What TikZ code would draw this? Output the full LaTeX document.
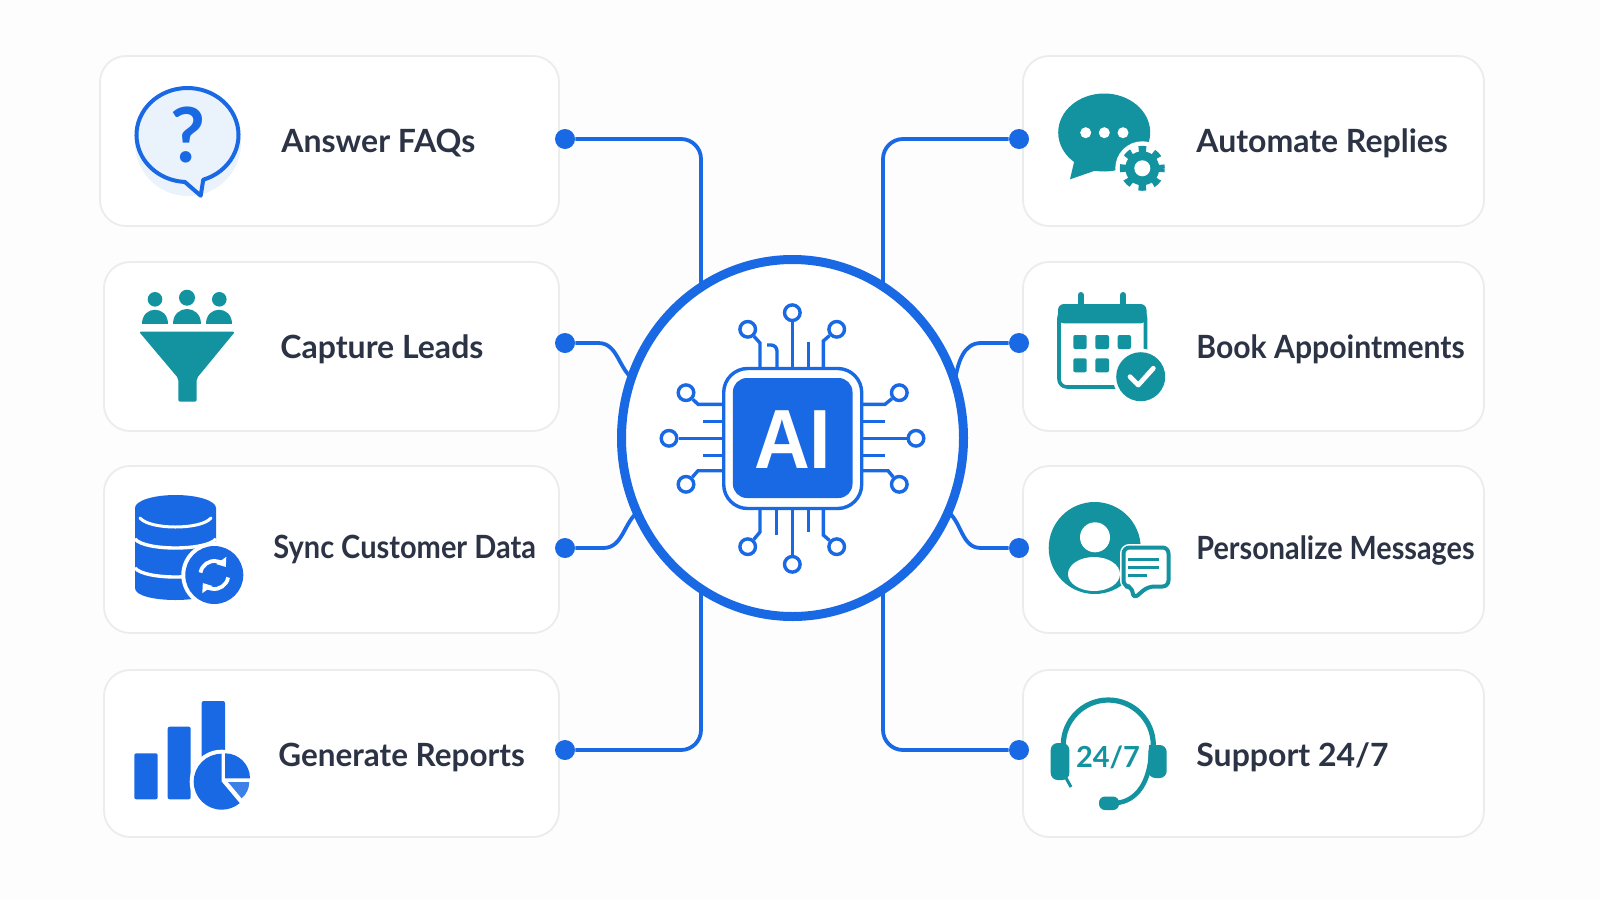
\documentclass[tikz,border=0pt]{standalone}
\usepackage{fontspec}
\setmainfont{Lato}
\newfontfamily\chipfont{Liberation Sans}[FakeStretch=0.92]
\usetikzlibrary{shapes.geometric,arrows.meta}
\definecolor{aiblue}{HTML}{1A69E4}
\definecolor{aiteal}{HTML}{13939F}
\definecolor{inktext}{HTML}{2B3345}
\definecolor{cardline}{HTML}{EBECEE}
\definecolor{palefill}{HTML}{EAF2FB}
\definecolor{pagefill}{HTML}{FDFDFE}
\tikzset{
  card/.style={draw=cardline, fill=white, line width=0.9pt, rounded corners=13pt, inner sep=0pt},
  cardtext/.style={anchor=base west, inner sep=0pt, text=inktext, font=\fontsize{16}{18}\selectfont\bfseries\addfontfeatures{FakeStretch=#1}},
  cardtext/.default=1,
  wire/.style={draw=aiblue, line width=1.9pt},
  portdot/.style={circle, fill=aiblue, inner sep=0pt, minimum size=10pt},
  trace/.style={draw=aiblue, line width=1.7pt},
  pinring/.style={circle, draw=aiblue, fill=white, line width=1.7pt, inner sep=0pt, minimum size=7.8pt},
}
\begin{document}
\begin{tikzpicture}[x=0.5pt, y=-0.5pt]
    \useasboundingbox (0, 0) rectangle (1600, 900);
    \fill [pagefill] (0, 0) rectangle (1600, 900);

    % cards
    \node [card, minimum width=229.5pt, minimum height=85pt] (faqCard) at (329.5, 141) {};
    \node [card, minimum width=227.5pt, minimum height=84.5pt] (leadCard) at (331.5, 346.5) {};
    \node [card, minimum width=227.5pt, minimum height=83.5pt] (dataCard) at (331.5, 549.5) {};
    \node [card, minimum width=227.5pt, minimum height=83.5pt] (reportCard) at (331.5, 753.5) {};
    \node [card, minimum width=230.5pt, minimum height=85pt] (replyCard) at (1253.5, 141) {};
    \node [card, minimum width=230.5pt, minimum height=84.5pt] (bookCard) at (1253.5, 346.5) {};
    \node [card, minimum width=230.5pt, minimum height=83.5pt] (msgCard) at (1253.5, 549.5) {};
    \node [card, minimum width=230.5pt, minimum height=83.5pt] (supportCard) at (1253.5, 753.5) {};

    \node [cardtext] (faqText) at (281, 152.5) {Answer FAQs};
    \node [cardtext] (leadText) at (280, 358) {Capture Leads};
    \node [cardtext=0.906] (dataText) at (273, 558.5) {Sync Customer Data};
    \node [cardtext=0.983] (reportText) at (278, 766) {Generate Reports};
    \node [cardtext] (replyText) at (1196, 152.5) {Automate Replies};
    \node [cardtext=0.942] (bookText) at (1196, 358) {Book Appointments};
    \node [cardtext=0.9] (msgText) at (1196, 559) {Personalize Messages};
    \node [cardtext] (supportText) at (1196, 766) {Support 24/7};

    % connectors
    \node [portdot] (faqDot) at (565, 139) {};
    \node [portdot] (leadDot) at (565, 343) {};
    \node [portdot] (dataDot) at (565, 548) {};
    \node [portdot] (reportDot) at (565, 750) {};
    \node [portdot] (replyDot) at (1019, 139) {};
    \node [portdot] (bookDot) at (1019, 343) {};
    \node [portdot] (msgDot) at (1019, 548) {};
    \node [portdot] (supportDot) at (1019, 750) {};

    \coordinate (faqIn) at (701, 295);
    \coordinate (reportIn) at (701, 585);
    \coordinate (replyIn) at (883, 295);
    \coordinate (supportIn) at (883, 585);
    \coordinate (leadBend) at (598, 343);
    \coordinate (leadIn) at (636, 381);
    \coordinate (dataBend) at (603, 548);
    \coordinate (dataIn) at (640, 510);
    \coordinate (bookBend) at (981, 343);
    \coordinate (bookIn) at (955, 380);
    \coordinate (msgBend) at (981, 548);
    \coordinate (msgIn) at (946, 510);

    \draw [wire, rounded corners=10pt] (faqDot) -| (faqIn);
    \draw [wire, rounded corners=10pt] (reportDot) -| (reportIn);
    \draw [wire, rounded corners=10pt] (replyDot) -| (replyIn);
    \draw [wire, rounded corners=10pt] (supportDot) -| (supportIn);
    \draw [wire] (leadDot) -- (leadBend) to [out=0, in=150] (leadIn);
    \draw [wire] (dataDot) -- (dataBend) to [out=0, in=-145] (dataIn);
    \draw [wire] (bookDot) -- (bookBend) to [out=180, in=80] (bookIn);
    \draw [wire] (msgDot) -- (msgBend) to [out=180, in=-35] (msgIn);

    % hub and chip
    \node [ellipse, draw=aiblue, fill=white, line width=4.5pt, inner sep=0pt, minimum width=171pt, minimum height=178.5pt] (hub) at (792.5, 438) {};
    \node [draw=aiblue, fill=white, line width=1.7pt, rounded corners=12pt, inner sep=0pt, minimum width=69pt, minimum height=70pt] (chipBox) at (792.7, 438.5) {};
    \node [fill=aiblue, rounded corners=7pt, inner sep=0pt, minimum width=59.8pt, minimum height=60pt] (chipCore) at (792.7, 438) {};
    \node [anchor=base, inner sep=0pt, text=white, font=\fontsize{42}{42}\selectfont\chipfont\bfseries] (chipText) at (792.7, 468.3) {AI};

    \node [pinring] (pinT) at (792.3, 312.7) {};
    \node [pinring] (pinTL) at (747.7, 329.3) {};
    \node [pinring] (pinTR) at (836.7, 329.3) {};
    \node [pinring] (pinB) at (792.3, 564.3) {};
    \node [pinring] (pinBL) at (747.7, 546.7) {};
    \node [pinring] (pinBR) at (836.7, 546.7) {};
    \node [pinring] (pinL) at (669, 438.3) {};
    \node [pinring] (pinLT) at (686, 392.7) {};
    \node [pinring] (pinLB) at (686, 484.3) {};
    \node [pinring] (pinR) at (916, 438.3) {};
    \node [pinring] (pinRT) at (899.3, 392.7) {};
    \node [pinring] (pinRB) at (899.3, 484.3) {};

    \draw [trace] (pinT) -- (pinT |- chipBox.north);
    \draw [trace] (pinB) -- (pinB |- chipBox.south);
    \draw [trace] (pinL) -- (pinL -| chipBox.west);
    \draw [trace] (pinR) -- (pinR -| chipBox.east);
    \draw [trace] (pinTL) -- (760, 343) -- (760, 367);
    \draw [trace, rounded corners=3pt] (767, 345) -- (777, 345) -- (777, 367);
    \draw [trace] (808.3, 341.7) -- (808.3, 367);
    \draw [trace] (pinTR) -- (823.3, 341) -- (823.3, 367);
    \draw [trace] (pinBL) -- (760, 532) -- (760, 510);
    \draw [trace] (776.7, 535) -- (776.7, 510);
    \draw [trace] (808.3, 531.7) -- (808.3, 510);
    \draw [trace] (pinBR) -- (823.3, 535) -- (823.3, 510);
    \draw [trace] (pinLT) -- (698, 404.3) -- (722, 404.3);
    \draw [trace] (703, 421.7) -- (722, 421.7);
    \draw [trace] (703, 455.7) -- (722, 455.7);
    \draw [trace] (pinLB) -- (698, 470.7) -- (722, 470.7);
    \draw [trace] (pinRT) -- (885, 404.3) -- (863, 404.3);
    \draw [trace] (885, 421.7) -- (863, 421.7);
    \draw [trace] (885, 455.7) -- (863, 455.7);
    \draw [trace] (pinRB) -- (888, 470.7) -- (863, 470.7);

    % question bubble
    \fill [palefill] (188, 143) circle [radius=53];
    \begin{scope}[shift={(187.5, 135)}, y=0.5pt]
      \draw [aiblue, fill=palefill, line width=2pt, line join=round] (-72:51 and 47) arc (-72:267:51 and 47) -- (13.2, -60.7) -- cycle;
    \end{scope}
    \node [anchor=base, inner sep=0pt, text=aiblue, font=\fontsize{38}{38}\selectfont\bfseries] (faqMark) at (188, 162.3) {?};

    % funnel
    \fill [aiteal] (155, 299.3) circle [radius=7.3];
    \fill [aiteal] (187, 297.7) circle [radius=8];
    \fill [aiteal] (219.3, 299.3) circle [radius=7.3];
    \fill [aiteal] (142, 324.3) .. controls (142, 305) and (168.3, 305) .. (168.3, 324.3) -- cycle;
    \fill [aiteal] (173.3, 324.3) .. controls (173.3, 304) and (201, 304) .. (201, 324.3) -- cycle;
    \fill [aiteal] (206, 324.3) .. controls (206, 305) and (232.3, 305) .. (232.3, 324.3) -- cycle;
    \fill [aiteal, rounded corners=1pt] (139, 331.7) -- (235, 331.7) -- (196.7, 378.3) -- (196.7, 401.7) -- (178.3, 401.7) -- (178.3, 378.3) -- cycle;

    % database
    \fill [aiblue] (135, 508) -- (135, 588) .. controls (135, 604) and (216, 604) .. (216, 588) -- (216, 508) -- cycle;
    \fill [aiblue] (175.5, 508) ellipse [x radius=40.5, y radius=13];
    \draw [white, line width=1.5pt, line cap=round] (140, 518) .. controls (150, 530) and (201, 530) .. (211, 518);
    \draw [white, line width=1.7pt] (135, 539) .. controls (145, 551) and (206, 551) .. (216, 539);
    \draw [white, line width=1.7pt] (135, 568) .. controls (145, 580) and (206, 580) .. (216, 568);
    \fill [white] (214.3, 575) circle [radius=33];
    \fill [aiblue] (214.3, 575) circle [radius=29];
    \begin{scope}[shift={(214.3, 575)}, y=0.5pt]
      \draw [white, line width=1.9pt, -{Triangle[length=4pt, width=6pt]}] (170:14) arc (170:35:14);
      \draw [white, line width=1.9pt, -{Triangle[length=4pt, width=6pt]}] (350:14) arc (350:215:14);
    \end{scope}

    % bars and pie
    \fill [aiblue, rounded corners=1pt] (134.3, 753.3) rectangle (157.7, 799.3);
    \fill [aiblue, rounded corners=1pt] (167.7, 726.7) rectangle (190.7, 799.3);
    \fill [aiblue, rounded corners=1pt] (201.7, 701) rectangle (225, 770);
    \begin{scope}[shift={(221.7, 781.7)}, y=0.5pt]
      \fill [white] (0, 0) circle [radius=32];
      \fill [aiblue] (0, 0) -- (90:28) arc (90:310:28) -- cycle;
      \fill [aiblue] (3.3, 3.4) -- ++(0:25) arc (0:90:25) -- cycle;
      \fill [aiblue!85!white] (6.5, -0.5) -- ++(0:21) arc (0:-50:21) -- cycle;
    \end{scope}

    % chat and gear
    \fill [aiteal] (1104.2, 132.5) ellipse [x radius=46, y radius=39];
    \fill [aiteal, line join=round] (1075, 158) -- (1070, 179.3) -- (1097, 170) -- cycle;
    \fill [white] (1085.7, 132.7) circle [radius=5.5];
    \fill [white] (1104.3, 132.7) circle [radius=5.5];
    \fill [white] (1123, 132.7) circle [radius=5.5];
    \fill [white] (1142.3, 168.3) circle [radius=27];
    \draw [aiteal, line width=3.5pt, dash pattern=on 3.7pt off 3.76pt, dash phase=1.85pt] (1142.3, 168.3) circle [radius=19];
    \fill [aiteal] (1142.3, 168.3) circle [radius=17];
    \fill [white] (1142.3, 168.3) circle [radius=8];

    % calendar
    \draw [aiteal, line width=1.8pt, rounded corners=4pt] (1059, 310) rectangle (1145.5, 387);
    \fill [aiteal, rounded corners=3pt] (1058, 304) rectangle (1146.5, 323.3);
    \draw [aiteal, line width=3pt, line cap=round] (1080.7, 295) -- (1080.7, 312);
    \draw [aiteal, line width=3pt, line cap=round] (1123.3, 295) -- (1123.3, 312);
    \fill [aiteal, rounded corners=1pt] (1073.3, 335) rectangle (1086.7, 349);
    \fill [aiteal, rounded corners=1pt] (1095.3, 335) rectangle (1109, 349);
    \fill [aiteal, rounded corners=1pt] (1117.7, 335) rectangle (1131, 349);
    \fill [aiteal, rounded corners=1pt] (1073.3, 358.3) rectangle (1086.7, 372.3);
    \fill [aiteal, rounded corners=1pt] (1095.3, 358.3) rectangle (1109, 372.3);
    \fill [white] (1140.7, 376.7) circle [radius=28];
    \fill [aiteal] (1140.7, 376.7) circle [radius=24.5];
    \draw [white, line width=2.4pt, line cap=round, line join=round] (1130, 376.7) -- (1138.3, 385) -- (1153.3, 368.3);

    % person and message
    \fill [aiteal] (1094.7, 548) circle [radius=46];
    \fill [white] (1095, 537.3) circle [radius=15];
    \fill [white] (1094, 574) ellipse [x radius=26, y radius=17];
    \draw [white, line width=3.5pt, rounded corners=3pt] (1123.5, 547.5) rectangle (1168.5, 586.5);
    \draw [aiteal, fill=white, line width=2pt, line join=round, rounded corners=3pt] (1123.5, 547.5) -- (1168.5, 547.5) -- (1168.5, 586.5) -- (1148, 586.5) -- (1133.3, 599) -- (1132, 586.5) -- (1123.5, 586.5) -- cycle;
    \draw [aiteal, line width=1.5pt] (1128.3, 559) -- (1159.3, 559);
    \draw [aiteal, line width=1.5pt] (1128.3, 567.3) -- (1159.3, 567.3);
    \draw [aiteal, line width=1.5pt] (1128.3, 575) -- (1146.7, 575);

    % headset
    \begin{scope}[shift={(1108.3, 745)}, y=0.5pt]
      \draw [aiteal, line width=2.6pt] (180:45) arc (180:0:45);
      \draw [aiteal, line width=2.3pt] (43, 0) .. controls (43, -38) and (28, -56) .. (8, -58);
    \end{scope}
    \fill [aiteal, rounded corners=3.5pt] (1050.7, 743) rectangle (1069.3, 780);
    \fill [aiteal, rounded corners=3.5pt] (1148.3, 745) rectangle (1166.7, 778);
    \draw [aiteal, line width=1.5pt] (1066, 778) -- (1071, 787);
    \fill [aiteal, rounded corners=3pt] (1099, 796.5) rectangle (1119, 810);
    \node [anchor=base, inner sep=0pt, text=aiteal, font=\fontsize{14.5}{14.5}\selectfont\bfseries] (supportMark) at (1108, 767) {24/7};
\end{tikzpicture}
\end{document}
